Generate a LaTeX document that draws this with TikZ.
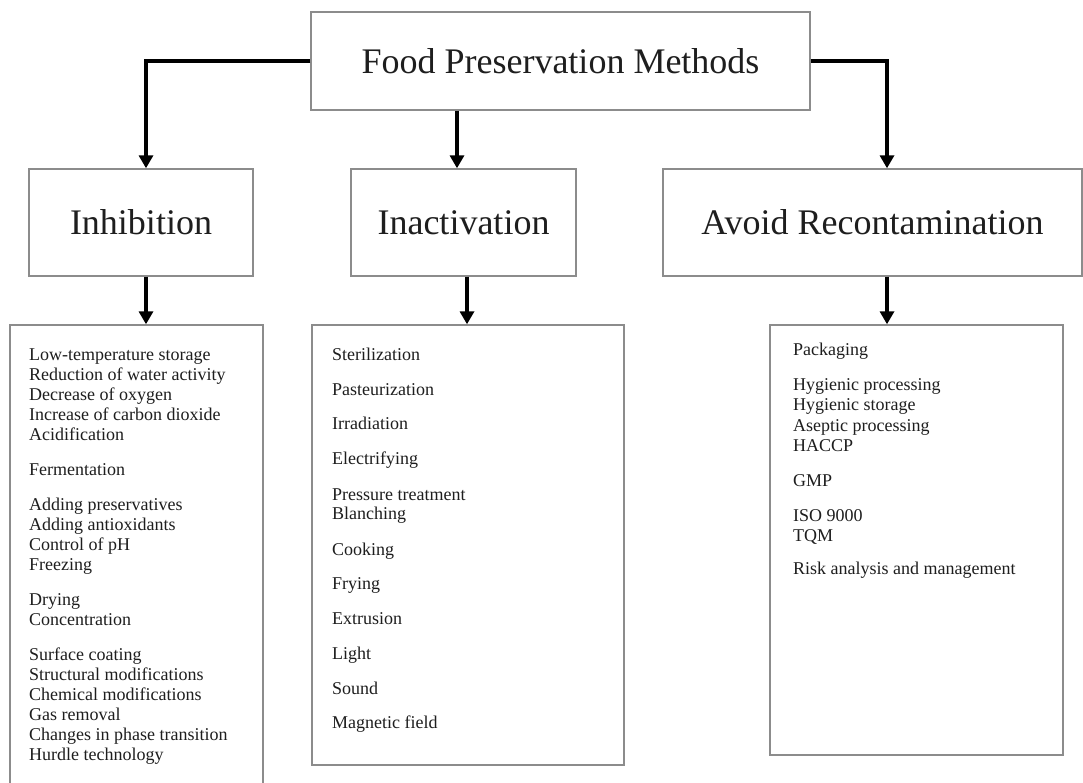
\documentclass[tikz,border=0pt]{standalone}
\usepackage{fontspec}
\setmainfont{Liberation Serif}
\usetikzlibrary{arrows.meta}
\definecolor{boxgray}{HTML}{8C8C8C}
\definecolor{txt}{HTML}{1E1E1E}
\begin{document}
\begin{tikzpicture}[x=1pt,y=-1pt,
  box/.style={draw=boxgray, line width=1.4pt, rectangle, inner sep=0pt, font=\fontsize{36}{40}\selectfont, text=txt},
  arr/.style={line width=3.6pt, -{Triangle[width=14pt,length=13pt]}},
  item/.style={anchor=base west, inner sep=0pt, font=\fontsize{18}{20}\selectfont, text=txt}]
\useasboundingbox (0,0) rectangle (1083,782);
\clip (0,0) rectangle (1083,782);
\fill[white] (0,0) rectangle (1083,782);

% boxes
\node[box, minimum width=499pt, minimum height=98pt] (top) at (560.5,61) {Food Preservation Methods};
\node[box, minimum width=224pt, minimum height=107pt] (inh) at (141,222.5) {Inhibition};
\node[box, minimum width=225pt, minimum height=107pt] (ina) at (463.5,222.5) {Inactivation};
\node[box, minimum width=419pt, minimum height=107pt] (avo) at (872.5,222.5) {Avoid Recontamination};
\node[box, minimum width=253pt, minimum height=475pt] (lstL) at (136.5,562.5) {};
\node[box, minimum width=312pt, minimum height=440pt] (lstM) at (468,545) {};
\node[box, minimum width=293pt, minimum height=430pt] (lstR) at (916.5,540) {};

% connector columns
\coordinate (cL) at (146,0);
\coordinate (cM) at (457,0);
\coordinate (cM2) at (467,0);
\coordinate (cR) at (887,0);

\draw[arr] (top.west) -| (inh.north -| cL);
\draw[arr] (top.south -| cM) -- (ina.north -| cM);
\draw[arr] (top.east) -| (avo.north -| cR);
\draw[arr] (inh.south -| cL) -- (lstL.north -| cL);
\draw[arr] (ina.south -| cM2) -- (lstM.north -| cM2);
\draw[arr] (avo.south -| cR) -- (lstR.north -| cR);

% list texts
\foreach \yy/\tx [count=\i] in {360/Low-temperature storage, 380/Reduction of water activity, 400/Decrease of oxygen, 420/Increase of carbon dioxide, 440/Acidification, 475/Fermentation, 510/Adding preservatives, 530/Adding antioxidants, 550/Control of pH, 570/Freezing, 605/Drying, 625/Concentration, 660/Surface coating, 680/Structural modifications, 700/Chemical modifications, 720/Gas removal, 740/Changes in phase transition, 760/Hurdle technology}
  \node[item] (l\i) at (29,\yy) {\tx};

\foreach \yy/\tx [count=\i] in {360/Sterilization, 395/Pasteurization, 429/Irradiation, 464/Electrifying, 500/Pressure treatment, 519/Blanching, 555/Cooking, 589/Frying, 624/Extrusion, 659/Light, 694/Sound, 728/Magnetic field}
  \node[item] (m\i) at (332,\yy) {\tx};

\foreach \yy/\tx [count=\i] in {355/Packaging, 390/Hygienic processing, 410/Hygienic storage, 431/Aseptic processing, 451/HACCP, 486/GMP, 521/ISO 9000, 541/TQM, 574/Risk analysis and management}
  \node[item] (r\i) at (793,\yy) {\tx};
\end{tikzpicture}
\end{document}
